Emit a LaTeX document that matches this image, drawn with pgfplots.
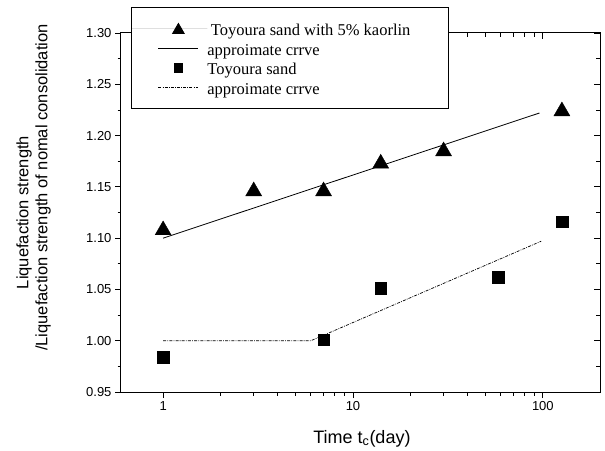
\documentclass[border=0pt]{standalone}
\usepackage{fontspec}
\setmainfont{Liberation Serif}
\setsansfont{Liberation Sans}
\usepackage{pgfplots}
\pgfplotsset{compat=1.18}

% filled triangle centred on its bounding box
\pgfdeclareplotmark{btri}{%
  \pgfpathmoveto{\pgfqpoint{0pt}{0.75\pgfplotmarksize}}%
  \pgfpathlineto{\pgfqpoint{0.866\pgfplotmarksize}{-0.75\pgfplotmarksize}}%
  \pgfpathlineto{\pgfqpoint{-0.866\pgfplotmarksize}{-0.75\pgfplotmarksize}}%
  \pgfpathclose
  \pgfusepathqfillstroke}

\pgfplotstableread{
t     r
1     1.110
3     1.148
7     1.148
14    1.175
30    1.187
126   1.226
}\kaolin

\pgfplotstableread{
t     r
1     0.984
7     1.001
14    1.051
58    1.062
126   1.116
}\clean

\begin{document}
\begin{tikzpicture}
% inward ticks on the top and right edges
\begin{semilogxaxis}[
  at={(0,0)}, anchor=south west,
  scale only axis, width=479pt, height=359pt,
  xmin=0.6, xmax=200,
  ymin=0.95, ymax=1.30,
  xtick={1,10,100},
  ytick={0.95,1.00,1.05,1.10,1.15,1.20,1.25,1.30},
  minor y tick num=1,
  major tick length=6.5pt, minor tick length=4pt,
  tick style={black, line width=0.8pt},
  axis line style={line width=1pt},
  tick align=inside,
  xtick pos=right, ytick pos=right,
  xticklabels={}, yticklabels={},
]
\addplot[draw=none] coordinates {(1,1)};
\end{semilogxaxis}

\begin{semilogxaxis}[
  at={(0,0)}, anchor=south west,
  scale only axis, width=479pt, height=359pt,
  xmin=0.6, xmax=200,
  ymin=0.95, ymax=1.30,
  xtick={1,10,100},
  ytick={0.95,1.00,1.05,1.10,1.15,1.20,1.25,1.30},
  minor y tick num=1,
  major tick length=6pt, minor tick length=3.5pt,
  tick style={black, line width=0.8pt},
  axis line style={line width=1pt},
  tick align=outside,
  xtick pos=left, ytick pos=left,
  xticklabels={1,10,100},
  /pgf/number format/assume math mode=true,
  yticklabel style={/pgf/number format/.cd, fixed, fixed zerofill, precision=2},
  ticklabel style={font=\sffamily\fontsize{13}{13}\selectfont},
  xlabel={Time t\textsubscript{c}(day)},
  xlabel style={font=\sffamily\fontsize{18}{18}\selectfont,
    at={(rel axis cs:0.503,-0.1421)}, anchor=base},
  ylabel={Liquefaction strength\\\hspace*{50pt}/Liquefaction strength of nomal consolidation},
  ylabel style={font=\sffamily\fontsize{16.5}{19}\selectfont, align=center,
    at={(rel axis cs:-0.1827,0.5)}, anchor=center},
  legend cell align=left,
  legend style={at={(rel axis cs:0.0209,1.0724)}, anchor=north west,
    draw=black, line width=0.8pt, fill=white,
    inner xsep=0pt, inner ysep=13pt, row sep=3.7pt,
    font=\fontsize{16.5}{16.5}\selectfont,
    nodes={inner sep=0pt, text height=15pt, text depth=1pt}},
  legend image code/.code={%
    \path[draw=none] (0pt,0pt) -- (76pt,0pt);
    \draw[mark repeat=2, mark phase=2, #1]
      plot coordinates {(27pt,0pt) (47pt,0pt) (67pt,0pt)};
  },
  legend image post style={every mark/.append style={scale=0.72}},
]
\addplot[only marks, mark=btri, mark size=9.2pt, black, fill=black]
  table[x=t, y=r] {\kaolin};
\addlegendentry{\makebox[241pt][l]{\hspace*{3.5pt}Toyoura sand with 5\% kaorlin}}

\addplot[black, line width=0.8pt] coordinates {(1,1.100) (96,1.222)};
\addlegendentry{approimate crrve}

\addplot[only marks, mark=square*, mark size=5.8pt, black]
  table[x=t, y=r] {\clean};
\addlegendentry{Toyoura sand}

\addplot[black, line width=0.7pt,
  dash pattern=on 3pt off 1.2pt on 0.8pt off 1.2pt]
  coordinates {(1,1.000) (6,1.000) (98,1.097)};
\addlegendentry{approimate crrve}
\end{semilogxaxis}

\pgfresetboundingbox
\path (-121pt,-58pt) rectangle (484pt,392pt);
\end{tikzpicture}
\end{document}
